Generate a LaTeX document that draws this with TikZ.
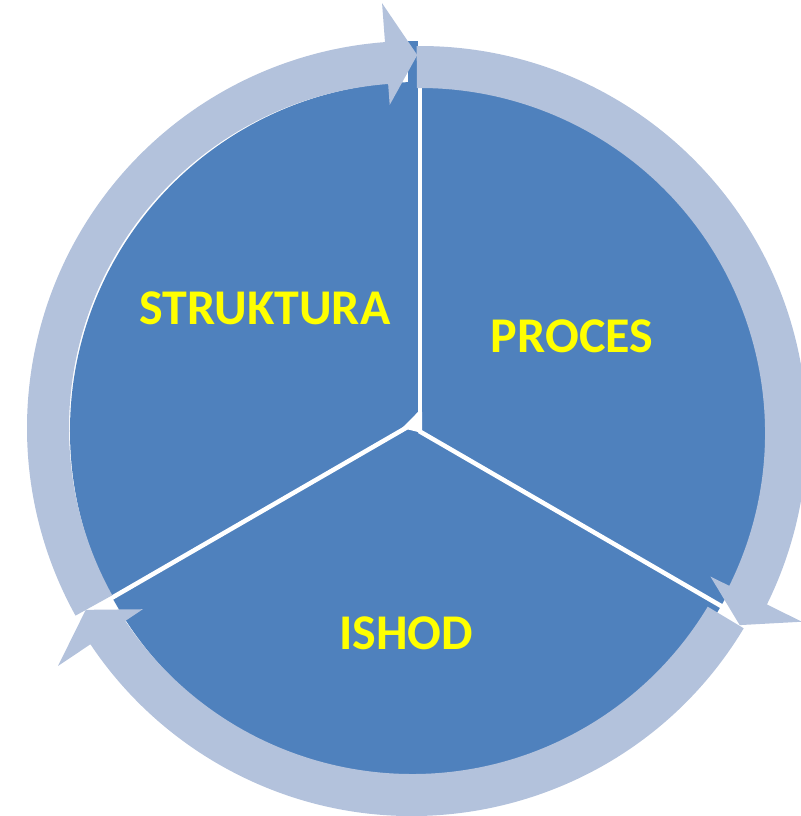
\documentclass[tikz,border=0pt]{standalone}
\usepackage{fontspec}
\setmainfont{Carlito}
\definecolor{darkblue}{HTML}{4F81BD}
\definecolor{ringblue}{HTML}{B3C2DC}
\definecolor{lbl}{HTML}{FFFF00}
\tikzset{
  sector/.style={fill=darkblue},
  divider/.style={draw=white, line width=4.5pt},
  ringarrow/.style={fill=ringblue},
  lab/.style={text=lbl, font=\bfseries\fontsize{50}{60}\selectfont, inner sep=0pt}
}
% #1 start angle, #2 back angle, #3 tip angle, #4 centre shift
\newcommand{\ringarrowpath}[4]{%
  \begin{scope}[shift={#4}]
  \fill[ringarrow] (#1:387pt) arc[start angle=#1, end angle=#2, radius=387pt]
    -- (#2:426pt) -- (#3:373pt) -- (#2:324pt) -- (#2:345pt)
    arc[start angle=#2, end angle=#1, radius=345pt] -- cycle;
  \end{scope}}
\begin{document}
\begin{tikzpicture}[x=1pt,y=1pt]
\useasboundingbox (-414,-388) rectangle (386,428);
% blue pie
\fill[sector] (5,-3) circle[radius=349pt];
\fill[sector] (-6,328) rectangle (4,387);
% dividers
\coordinate (c0) at (6,14);
\coordinate (ctop) at (6,348);
\coordinate (cl) at (-3,3);
\coordinate (cle) at (-318,-179);
\coordinate (cr) at (5,-3);
\coordinate (cre) at (321,-186);
\draw[divider] (c0) -- (ctop);
\draw[divider] (cl) -- (cle);
\draw[divider] (cr) -- (cre);
\fill[white] (-12,0) -- (4,16) -- (8.2,16) -- (8,-3) -- (4,-4) -- cycle;
% ring arrows (clockwise)
\ringarrowpath{209}{94.3}{89.5}{(0,0)}
\ringarrowpath{90.5}{-26.3}{-31}{(6,-5)}
\ringarrowpath{329}{213.8}{209}{(-2,-1)}
% labels
\node[lab] (s) at (-149,120) {STRUKTURA};
\node[lab] (p) at (158,92) {PROCES};
\node[lab] (i) at (-8,-205) {ISHOD};
\end{tikzpicture}
\end{document}
